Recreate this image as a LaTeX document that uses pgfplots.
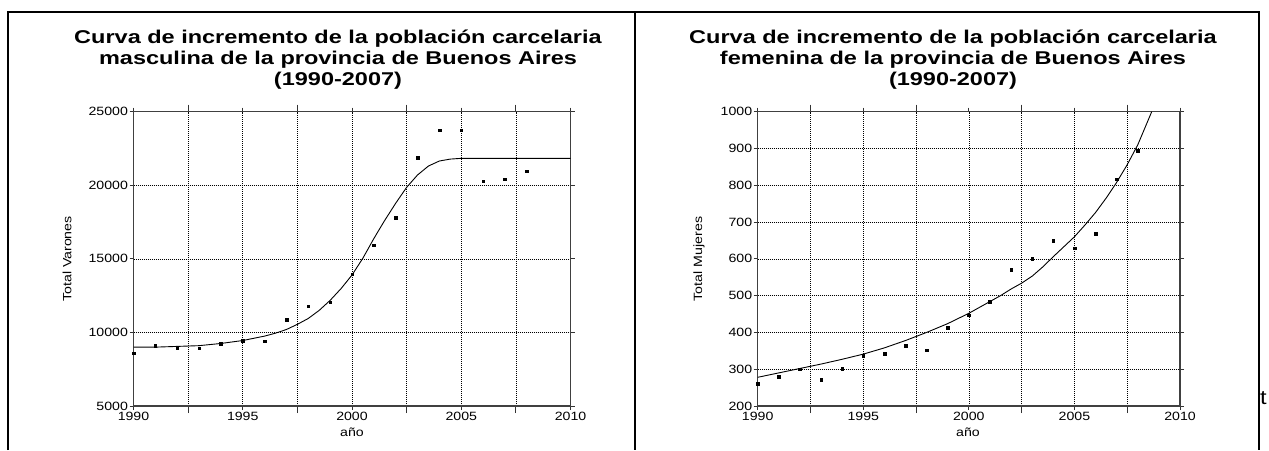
\documentclass[border=0pt]{standalone}
\usepackage{fontspec}
\setmainfont{Liberation Sans}[FakeStretch=1.18]
\newfontfamily\titlefont{Liberation Sans}[FakeStretch=1.27]
\usepackage{pgfplots}
\pgfplotsset{compat=1.18}
\pgfplotsset{
  myax/.style={
    scale only axis, anchor=south west,
    xmin=1990, xmax=2010,
    xtick={1990,1995,2000,2005,2010},
    minor xtick={1992.5,1997.5,2002.5,2007.5},
    grid=both,
    major grid style={black, line width=0.6pt, dash pattern=on 0.8pt off 1.2pt},
    minor grid style={black, line width=0.6pt, dash pattern=on 0.8pt off 1.2pt},
    tick align=outside,
    major tick length=4pt, minor tick length=7pt,
    tick style={gray!40!black, line width=0.8pt},
    axis line style={gray!50!black, line width=1.1pt},
    tick label style={font=\fontsize{12}{13}\selectfont},
    /pgf/number format/assume math mode=true,
    /pgf/number format/1000 sep={},
    scaled y ticks=false,
    xticklabel style={/pgf/number format/1000 sep={}, yshift=1pt},
    yticklabel style={xshift=2pt},
    clip=true,
  }
}
\begin{document}
\begin{tikzpicture}
\begin{scope}[x=1pt,y=1pt]
\useasboundingbox (0,0) rectangle (1269,450);
\draw[line width=2pt] (8,0) -- (8,438) -- (1259,438) -- (1259,0);
\draw[line width=1.3pt] (635,438) -- (635,0);
\node[align=center, font=\fontsize{18.5}{21}\titlefont\bfseries] at (338,390) {Curva de incremento de la población carcelaria\\masculina de la provincia de Buenos Aires\\(1990-2007)};
\node[font=\fontsize{12}{13}\selectfont] at (352,18) {año};
\node[font=\fontsize{12}{13}\selectfont, rotate=90] at (67,191) {Total Varones};
\node[align=center, font=\fontsize{18.5}{21}\titlefont\bfseries] at (953,390) {Curva de incremento de la población carcelaria\\femenina de la provincia de Buenos Aires\\(1990-2007)};
\node[font=\fontsize{12}{13}\selectfont] at (968,18) {año};
\node[font=\fontsize{12}{13}\selectfont, rotate=90] at (699,191) {Total Mujeres};
\node[font=\fontsize{20}{22}\selectfont, anchor=west, inner sep=1pt] at (1259,52) {t};
\end{scope}
\begin{axis}[myax, at={(133.5pt,44pt)}, width=437pt, height=294.3pt,
  ymin=5000, ymax=25000, ytick={5000,10000,15000,20000,25000}]
\addplot[black, line width=0.9pt] coordinates {
(1990,9000) (1991,9000) (1992,9050) (1993,9100) (1994,9250) (1995,9450)
(1996,9750) (1996.5,9950) (1997,10200) (1997.5,10550) (1998,10950) (1998.5,11500)
(1999,12180) (1999.5,12980) (2000,13900) (2000.5,15050) (2001,16380) (2001.5,17620)
(2002,18780) (2002.5,19860) (2003,20700) (2003.5,21310) (2004,21650) (2004.5,21780)
(2005,21830) (2010,21830)};
\addplot[only marks, mark=square*, mark size=1.3pt, black] coordinates {
(1990,8580) (1991,9100) (1992,8940) (1993,8940) (1994,9235) (1995,9440)
(1996,9416) (1997,10866) (1998,11795) (1999,12044) (2000,13970) (2001,15940)
(2002,17800) (2003,21874) (2004,23732) (2005,23732) (2006,20266) (2007,20425)
(2008,20946)};
\end{axis}
\begin{axis}[myax, at={(757.7pt,44pt)}, width=422.3pt, height=294.3pt,
  ymin=200, ymax=1000, ytick={200,300,...,1000}]
\addplot[black, line width=0.9pt] coordinates {
(1990,278) (1991,290) (1992,302) (1993,314) (1994,327) (1995,341)
(1996,358) (1997,378) (1998,400) (1999,424) (2000,452) (2001,484)
(2001.5,500) (2002,518) (2002.5,534) (2003,553) (2003.5,578) (2004,606)
(2004.5,633) (2005,660) (2005.5,692) (2006,726) (2006.5,765) (2007,808)
(2007.5,856) (2008,910) (2008.66,1000)};
\addplot[only marks, mark=square*, mark size=1.3pt, black] coordinates {
(1990,260) (1991,279) (1992,300) (1993,272) (1994,302) (1995,337)
(1996,342) (1997,364) (1998,352) (1999,413) (2000,447) (2001,484)
(2002,571) (2003,601) (2004,650) (2005,629) (2006,669) (2007,817)
(2008,894)};
\end{axis}
\end{tikzpicture}
\end{document}
